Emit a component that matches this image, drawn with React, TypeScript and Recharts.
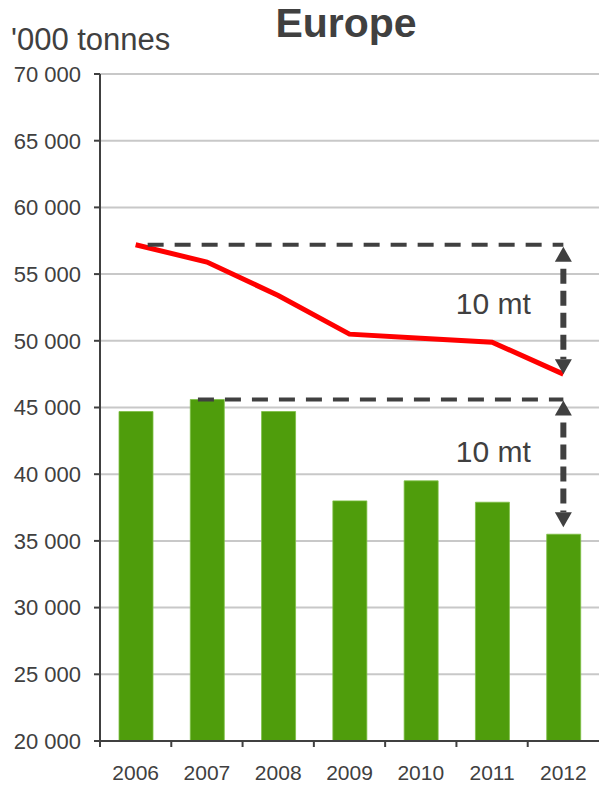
import React from 'react';
import { ComposedChart, Bar, Line, XAxis, YAxis, CartesianGrid, ReferenceLine } from 'recharts';

const years = ['2006', '2007', '2008', '2009', '2010', '2011', '2012'];
const production = [44700, 45600, 44700, 38000, 39500, 37900, 35500];
const consumption = [57200, 55900, 53400, 50500, 50200, 49900, 47500];
const yTicks = [20000, 25000, 30000, 35000, 40000, 45000, 50000, 55000, 60000, 65000, 70000];
const gapLabel = '10 mt';

const data = years.map((y, i) => ({ year: y, production: production[i], consumption: consumption[i] }));

const W = 599;
const H = 785;
const Y_AXIS_W = 100;
const PLOT_W = W - Y_AXIS_W;
const FONT = '"Liberation Sans", Arial, sans-serif';
const DARK = '#404040';

const fmt = (v: number) => String(v).replace(/\B(?=(\d{3})+(?!\d))/g, ' ');

const XTick = (props: any) => {
  const { x, y, payload } = props;
  const band = PLOT_W / years.length;
  const tx = x - band / 2;
  return (
    <g>
      <line x1={tx} x2={tx} y1={y - 8} y2={y - 2} stroke={DARK} strokeWidth={2} />
      <text x={x} y={y + 31} textAnchor="middle" fontSize={21} fontFamily={FONT} fill={DARK}>
        {payload.value}
      </text>
    </g>
  );
};

const hDash = (startPad: number) => (p: any) => (
  <line
    x1={p.x1 + startPad}
    y1={p.y1}
    x2={p.x2}
    y2={p.y2}
    stroke={DARK}
    strokeWidth={4}
    strokeDasharray="16 11"
  />
);

const vArrow = (topPad: number, bottomPad: number, labelDy: number) => (p: any) => {
  const x = p.x1;
  const yt = Math.min(p.y1, p.y2) + topPad;
  const yb = Math.max(p.y1, p.y2) - bottomPad;
  const ah = 15;
  const aw = 8.5;
  const mid = (Math.min(p.y1, p.y2) + Math.max(p.y1, p.y2)) / 2;
  return (
    <g>
      <line
        x1={x}
        x2={x}
        y1={yt + ah}
        y2={yb - ah}
        stroke={DARK}
        strokeWidth={6}
        strokeDasharray="15 7"
        strokeDashoffset={15}
      />
      <polygon points={`${x},${yt} ${x - aw},${yt + ah} ${x + aw},${yt + ah}`} fill={DARK} />
      <polygon points={`${x},${yb} ${x - aw},${yb - ah} ${x + aw},${yb - ah}`} fill={DARK} />
      <text x={x - 70} y={mid + labelDy} textAnchor="middle" fontSize={30} fontFamily={FONT} fill={DARK}>
        {gapLabel}
      </text>
    </g>
  );
};

export default function App() {
  const last = years[years.length - 1];
  return (
    <div style={{ position: 'absolute', left: 0, top: 0, width: W, height: H, fontFamily: FONT, background: '#fff' }}>
      <ComposedChart width={W} height={H} data={data} margin={{ top: 74, right: 0, bottom: 0, left: 0 }}>
        <CartesianGrid vertical={false} stroke="#C8C8C8" strokeWidth={2} />
        <XAxis
          dataKey="year"
          height={44}
          interval={0}
          axisLine={{ stroke: DARK, strokeWidth: 2 }}
          tickLine={false}
          tick={<XTick />}
        />
        <YAxis
          width={Y_AXIS_W}
          domain={[20000, 70000]}
          ticks={yTicks}
          interval={0}
          tickFormatter={fmt}
          axisLine={{ stroke: DARK, strokeWidth: 2 }}
          tickLine={{ stroke: DARK, strokeWidth: 2 }}
          tickSize={6}
          tickMargin={13}
          tick={{ fontSize: 22, fontFamily: FONT, fill: DARK }}
        />
        <Bar dataKey="production" fill="#4F9D0C" stroke="#7DBF45" strokeWidth={0.8} barSize={34} isAnimationActive={false} />
        <Line
          dataKey="consumption"
          type="linear"
          stroke="#FF0000"
          strokeWidth={5}
          dot={false}
          activeDot={false}
          isAnimationActive={false}
        />
        <ReferenceLine
          segment={[{ x: years[0], y: consumption[0] }, { x: last, y: consumption[0] }]}
          shape={hDash(12)}
        />
        <ReferenceLine
          segment={[{ x: years[1], y: production[1] }, { x: last, y: production[1] }]}
          shape={hDash(-9)}
        />
        <ReferenceLine
          segment={[{ x: last, y: consumption[0] }, { x: last, y: consumption[consumption.length - 1] }]}
          shape={vArrow(2, 0, 4.5)}
        />
        <ReferenceLine
          segment={[{ x: last, y: production[1] }, { x: last, y: production[production.length - 1] }]}
          shape={vArrow(1, 7, -4.5)}
        />
      </ComposedChart>
      <svg width={W} height={60} style={{ position: 'absolute', left: 0, top: 0, pointerEvents: 'none' }}>
        <text x={346} y={37} textAnchor="middle" fontSize={41} fontWeight="bold" fontFamily={FONT} fill={DARK}>
          Europe
        </text>
        <text x={11} y={50} textAnchor="start" fontSize={31} fontFamily={FONT} fill={DARK}>
          '000 tonnes
        </text>
      </svg>
    </div>
  );
}
